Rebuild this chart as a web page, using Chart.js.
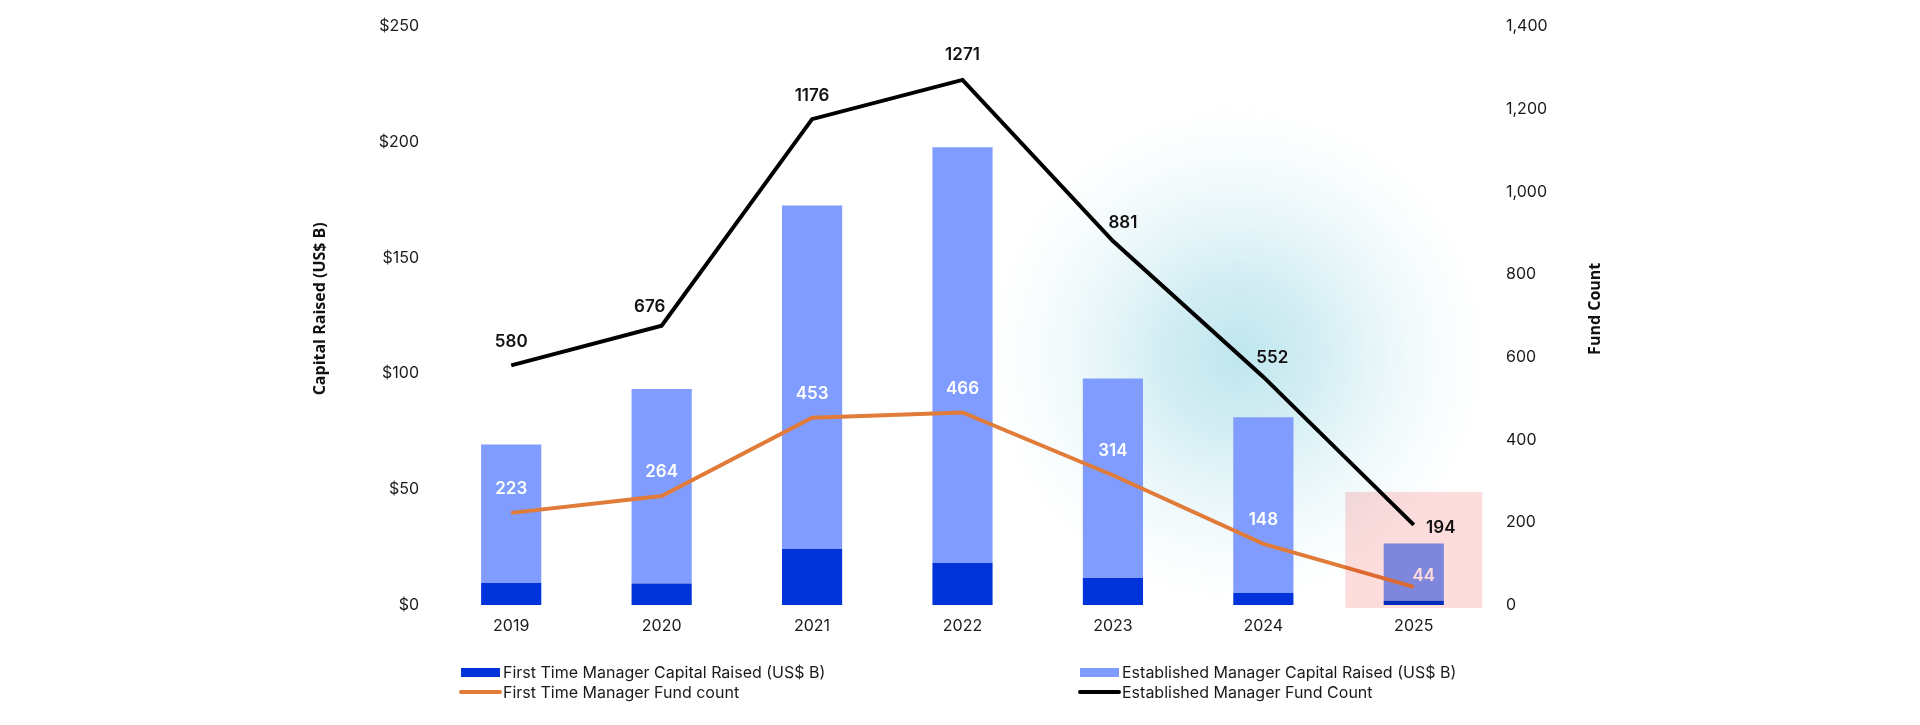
<!DOCTYPE html>
<html>
<head>
<meta charset="utf-8">
<title>Capital Raised and Fund Count</title>
<script src="https://cdn.jsdelivr.net/npm/chart.js@4.4.1/dist/chart.umd.min.js"></script>
<style>
  html, body { margin: 0; padding: 0; background: #fff; }
  #wrap { position: relative; width: 1920px; height: 725px; overflow: hidden; }
  #legend { position: absolute; left: 0; top: 0; font-family: Inter, sans-serif; font-size: 16px; color: #1a1a1a; }
  .item { position: absolute; display: flex; align-items: center; white-space: nowrap; height: 20px; }
  .sw { width: 45px; display: flex; justify-content: center; align-items: center; }
</style>
</head>
<body>
<div id="wrap">
  <canvas id="fundChart" width="1920" height="725"></canvas>
  <div id="legend"></div>
</div>
<script>
/* ---------- DATA ---------- */
const years = ["2019", "2020", "2021", "2022", "2023", "2024", "2025"];

// capital raised, US$ B (stacked bars, left axis)
const firstTimeCapital   = [9.5, 9.3, 24.2, 18.2, 11.7, 5.2, 1.8];
const establishedCapital = [59.9, 84.1, 148.5, 179.7, 86.2, 75.9, 24.8];

// fund counts (lines, right axis)
const firstTimeCount   = [223, 264, 453, 466, 314, 148, 44];
const establishedCount = [580, 676, 1176, 1271, 881, 552, 194];

const capitalTicks = [0, 50, 100, 150, 200, 250];
const countTicks   = [0, 200, 400, 600, 800, 1000, 1200, 1400];

/* ---------- STYLE ---------- */
const colors = {
    firstBar: "#0033d9",
    estBar: "#7f9cfe",
    firstLine: "#e07b39",
    estLine: "#000000",
    text: "#1a1a1a"
};

// label nudges (px) relative to each line point
const estNudge   = [[0, -23], [-12, -19], [0, -23], [0, -25], [10, -18], [9, -19], [27, 3]];
const firstNudge = [[0, -24], [0, -24], [0, -24], [0, -24], [0, -24], [0, -24], [10, -11]];

/* ---------- PLUGINS ---------- */
const glowPlugin = {
    id: "glow",
    beforeDatasetsDraw(chart) {
        const { ctx } = chart;
        const x = chart.scales.x.getPixelForValue(4.83);
        const y = 355;
        const r = 265;
        const g = ctx.createRadialGradient(x, y, 0, x, y, r);
        g.addColorStop(0, "rgba(160,218,230,0.68)");
        g.addColorStop(0.3, "rgba(168,221,232,0.5)");
        g.addColorStop(0.6, "rgba(185,228,237,0.25)");
        g.addColorStop(0.85, "rgba(210,238,243,0.08)");
        g.addColorStop(1, "rgba(255,255,255,0)");
        ctx.save();
        ctx.fillStyle = g;
        ctx.fillRect(x - r, y - r, r * 2, r * 2);
        ctx.restore();
    }
};

const labelPlugin = {
    id: "pointLabels",
    afterDatasetsDraw(chart) {
        const { ctx } = chart;
        ctx.save();
        ctx.font = "600 17px Inter";
        ctx.textAlign = "center";
        ctx.textBaseline = "middle";

        const drawSet = (idx, nudge, color, values) => {
            chart.getDatasetMeta(idx).data.forEach((pt, i) => {
                ctx.fillStyle = color;
                ctx.fillText(String(values[i]), pt.x + nudge[i][0], pt.y + nudge[i][1]);
            });
        };
        drawSet(2, firstNudge, "#ffffff", firstTimeCount);
        drawSet(3, estNudge, "#111111", establishedCount);

        // highlight box round the last year
        const xs = chart.scales.x, ys = chart.scales.y;
        const cx = xs.getPixelForValue(years.length - 1);
        const half = (xs.getPixelForValue(1) - xs.getPixelForValue(0)) * 0.455;
        const top = ys.getPixelForValue(48.9);
        const bottom = ys.getPixelForValue(0) + 3;
        ctx.globalCompositeOperation = "multiply";
        ctx.fillStyle = "#fddcdc";
        ctx.fillRect(cx - half, top, half * 2, bottom - top);
        ctx.restore();
    }
};

const axisTitlePlugin = {
    id: "axisTitles",
    afterDraw(chart) {
        const { ctx, chartArea } = chart;
        const mid = (chartArea.top + chartArea.bottom) / 2 - 7;
        ctx.save();
        ctx.font = "700 16px 'Open Sans'";
        ctx.fillStyle = "#111";
        ctx.textAlign = "center";
        ctx.textBaseline = "middle";
        [[chartArea.left - 116, "Capital Raised (US$ B)"], [chartArea.right + 106, "Fund Count"]].forEach(([x, t]) => {
            ctx.save();
            ctx.translate(x, mid);
            ctx.rotate(-Math.PI / 2);
            ctx.fillText(t, 0, 0);
            ctx.restore();
        });
        ctx.restore();
    }
};

/* ---------- CHART ---------- */
const ctx = document.getElementById("fundChart").getContext("2d");
const tickFont = { family: "Inter", size: 16 };

const chart = new Chart(ctx, {
    data: {
        labels: years,
        datasets: [
            {
                type: "bar",
                label: "First Time Manager Capital Raised (US$ B)",
                data: firstTimeCapital,
                backgroundColor: colors.firstBar,
                yAxisID: "y",
                order: 1
            },
            {
                type: "bar",
                label: "Established Manager Capital Raised (US$ B)",
                data: establishedCapital,
                backgroundColor: colors.estBar,
                yAxisID: "y",
                order: 1
            },
            {
                type: "line",
                label: "First Time Manager Fund count",
                data: firstTimeCount,
                borderColor: colors.firstLine,
                borderWidth: 4,
                pointRadius: 0,
                tension: 0,
                yAxisID: "y1",
                order: 0
            },
            {
                type: "line",
                label: "Established Manager Fund Count",
                data: establishedCount,
                borderColor: colors.estLine,
                borderWidth: 4,
                pointRadius: 0,
                tension: 0,
                yAxisID: "y1",
                order: 0
            }
        ]
    },
    options: {
        responsive: false,
        animation: false,
        layout: { padding: { top: 22, bottom: 80, left: 0, right: 0 } },
        datasets: { bar: { barPercentage: 0.4, categoryPercentage: 1 } },
        plugins: { legend: { display: false }, tooltip: { enabled: false } },
        scales: {
            x: {
                stacked: true,
                grid: { display: false, drawTicks: false },
                border: { display: false },
                ticks: { font: tickFont, color: colors.text, padding: 12 },
                afterFit(s) { s.height = 40; }
            },
            y: {
                position: "left",
                stacked: true,
                min: 0,
                max: 250,
                afterBuildTicks(s) { s.ticks = capitalTicks.map(v => ({ value: v })); },
                grid: { display: false, drawTicks: false },
                border: { display: false },
                ticks: { font: tickFont, color: colors.text, padding: 17, callback: v => "$" + v },
                afterFit(s) { s.width = 436; }
            },
            y1: {
                position: "right",
                stacked: false,
                min: 0,
                max: 1400,
                afterBuildTicks(s) { s.ticks = countTicks.map(v => ({ value: v })); },
                grid: { display: false, drawTicks: false },
                border: { display: false },
                ticks: { font: tickFont, color: colors.text, padding: 17, callback: v => v.toLocaleString("en-US") },
                afterFit(s) { s.width = 431; }
            }
        }
    },
    plugins: [glowPlugin, labelPlugin, axisTitlePlugin]
});

/* ---------- LEGEND ---------- */
const legendSlots = [[458, 662], [1077, 662], [458, 682], [1077, 682]];
const legendOrder = [0, 1, 2, 3];
const legendEl = document.getElementById("legend");
legendOrder.forEach((di, k) => {
    const ds = chart.data.datasets[di];
    const item = document.createElement("div");
    item.className = "item";
    item.style.left = legendSlots[k][0] + "px";
    item.style.top = legendSlots[k][1] + "px";
    const sw = document.createElement("span");
    sw.className = "sw";
    const mark = document.createElement("span");
    if (ds.type === "bar") {
        mark.style.cssText = `display:block;width:39px;height:9px;background:${ds.backgroundColor}`;
    } else {
        mark.style.cssText = `display:block;width:43px;height:4px;border-radius:2px;background:${ds.borderColor}`;
    }
    sw.appendChild(mark);
    const txt = document.createElement("span");
    txt.textContent = ds.label;
    item.appendChild(sw);
    item.appendChild(txt);
    legendEl.appendChild(item);
});
</script>
</body>
</html>
